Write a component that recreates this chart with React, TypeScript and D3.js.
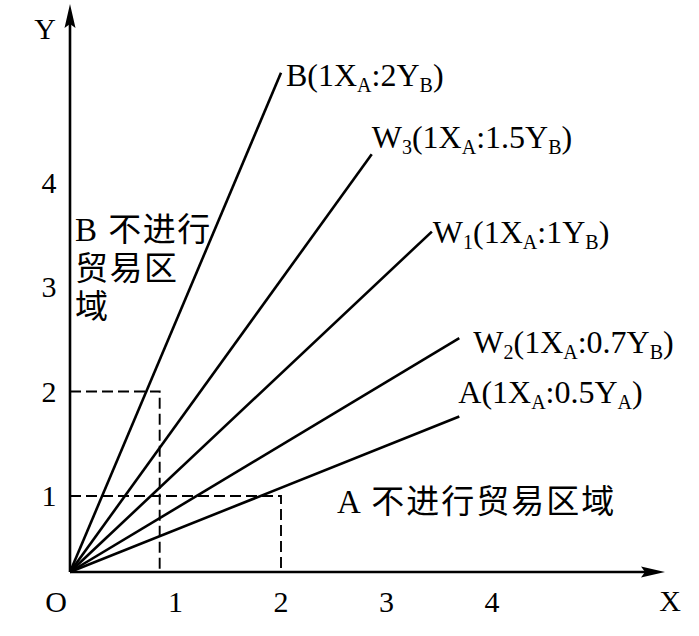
import React from "react";
import * as d3 from "d3";

// ---- data ----
const X_TICKS = [1, 2, 3, 4];
const Y_TICKS = [1, 2, 3, 4];
const RAY_NAMES = ["B", "W3", "W1", "W2", "A"];
const RAY_END_X = [2.0, 2.86, 3.43, 3.69, 3.69];
const RAY_END_Y = [5.05, 4.27, 3.53, 2.51, 1.76];
// label pieces: [text, isSubscript]
const RAY_LABELS: [string, boolean][][] = [
  [["B(1X", false], ["A", true], [":2Y", false], ["B", true], [")", false]],
  [["W", false], ["3", true], ["(1X", false], ["A", true], [":1.5Y", false], ["B", true], [")", false]],
  [["W", false], ["1", true], ["(1X", false], ["A", true], [":1Y", false], ["B", true], [")", false]],
  [["W", false], ["2", true], ["(1X", false], ["A", true], [":0.7Y", false], ["B", true], [")", false]],
  [["A(1X", false], ["A", true], [":0.5Y", false], ["A", true], [")", false]],
];
const GUIDE_X = [0.85, 2];
const GUIDE_Y = [2, 1];
const REGION_B_LINES = ["B 不进行", "贸易区", "域"];
const REGION_A_TEXT = "A 不进行贸易区域";

// ---- layout ----
const W = 699;
const H = 636;
const AX_X = 70; // y-axis pixel x
const AX_Y = 572; // x-axis pixel y
const LABEL_OFF: [number, number][] = [
  [5, 13],
  [0, -6],
  [1, 11],
  [14, 15],
  [-1, -14],
];
const SERIF = '"Liberation Serif", "Times New Roman", "Noto Sans CJK SC", serif';

const x = d3.scaleLinear().domain([0, 1]).range([AX_X, AX_X + 105.5]);
const y = d3.scaleLinear().domain([0, 1]).range([600.5, 496]);

export default function App() {
  const lineGen = d3.line<[number, number]>();
  return (
    <svg
      width={W}
      height={H}
      style={{ position: "absolute", left: 0, top: 0, background: "#fff" }}
      fontFamily={SERIF}
    >
      <rect width={W} height={H} fill="#fff" />
      {/* dashed guides */}
      {GUIDE_X.map((gx, i) => (
        <path
          key={"g" + i}
          d={
            lineGen([
              [AX_X, y(GUIDE_Y[i])],
              [x(gx), y(GUIDE_Y[i])],
              [x(gx), AX_Y],
            ]) || ""
          }
          fill="none"
          stroke="#000"
          strokeWidth={1.9}
          strokeDasharray="11,5"
        />
      ))}
      {/* rays */}
      {RAY_NAMES.map((n, i) => (
        <line
          key={n}
          x1={AX_X}
          y1={AX_Y}
          x2={x(RAY_END_X[i])}
          y2={y(RAY_END_Y[i])}
          stroke="#000"
          strokeWidth={2.6}
        />
      ))}
      {/* ray labels */}
      {RAY_NAMES.map((n, i) => {
        const lx = x(RAY_END_X[i]) + LABEL_OFF[i][0];
        const ly = y(RAY_END_Y[i]) + LABEL_OFF[i][1];
        let prevSub = false;
        return (
          <text key={"l" + n} x={lx} y={ly} fontSize={32}>
            {RAY_LABELS[i].map(([t, sub], j) => {
              const dy = sub && !prevSub ? 6 : !sub && prevSub ? -6 : 0;
              prevSub = sub;
              return (
                <tspan key={j} dy={dy} fontSize={sub ? 20 : 32}>
                  {t}
                </tspan>
              );
            })}
          </text>
        );
      })}
      {/* axes */}
      <line x1={AX_X} y1={AX_Y} x2={AX_X} y2={22} stroke="#000" strokeWidth={2.6} />
      <path d={`M${AX_X},4 L${AX_X - 5.5},28 L${AX_X},24 L${AX_X + 5.5},28 Z`} fill="#000" />
      <line x1={AX_X} y1={AX_Y} x2={645} y2={AX_Y} stroke="#000" strokeWidth={2.6} />
      <path d={`M665,${AX_Y} L641,${AX_Y - 5.5} L645,${AX_Y} L641,${AX_Y + 5.5} Z`} fill="#000" />
      {/* tick labels */}
      {X_TICKS.map((t) => (
        <text key={"xt" + t} x={x(t)} y={612} fontSize={30} textAnchor="middle">
          {t}
        </text>
      ))}
      {Y_TICKS.map((t) => (
        <text key={"yt" + t} x={49} y={y(t) + 10} fontSize={30} textAnchor="middle">
          {t}
        </text>
      ))}
      <text x={56} y={612} fontSize={30} textAnchor="middle">O</text>
      <text x={45} y={39} fontSize={30} textAnchor="middle">Y</text>
      <text x={670} y={611} fontSize={30} textAnchor="middle">X</text>
      {/* region labels */}
      {REGION_B_LINES.map((s, i) => (
        <text key={"rb" + i} x={75} y={241 + i * 38.5} fontSize={33} letterSpacing={1.5}>
          {s}
        </text>
      ))}
      <text x={337} y={513} fontSize={33} letterSpacing={2}>
        {REGION_A_TEXT}
      </text>
    </svg>
  );
}
